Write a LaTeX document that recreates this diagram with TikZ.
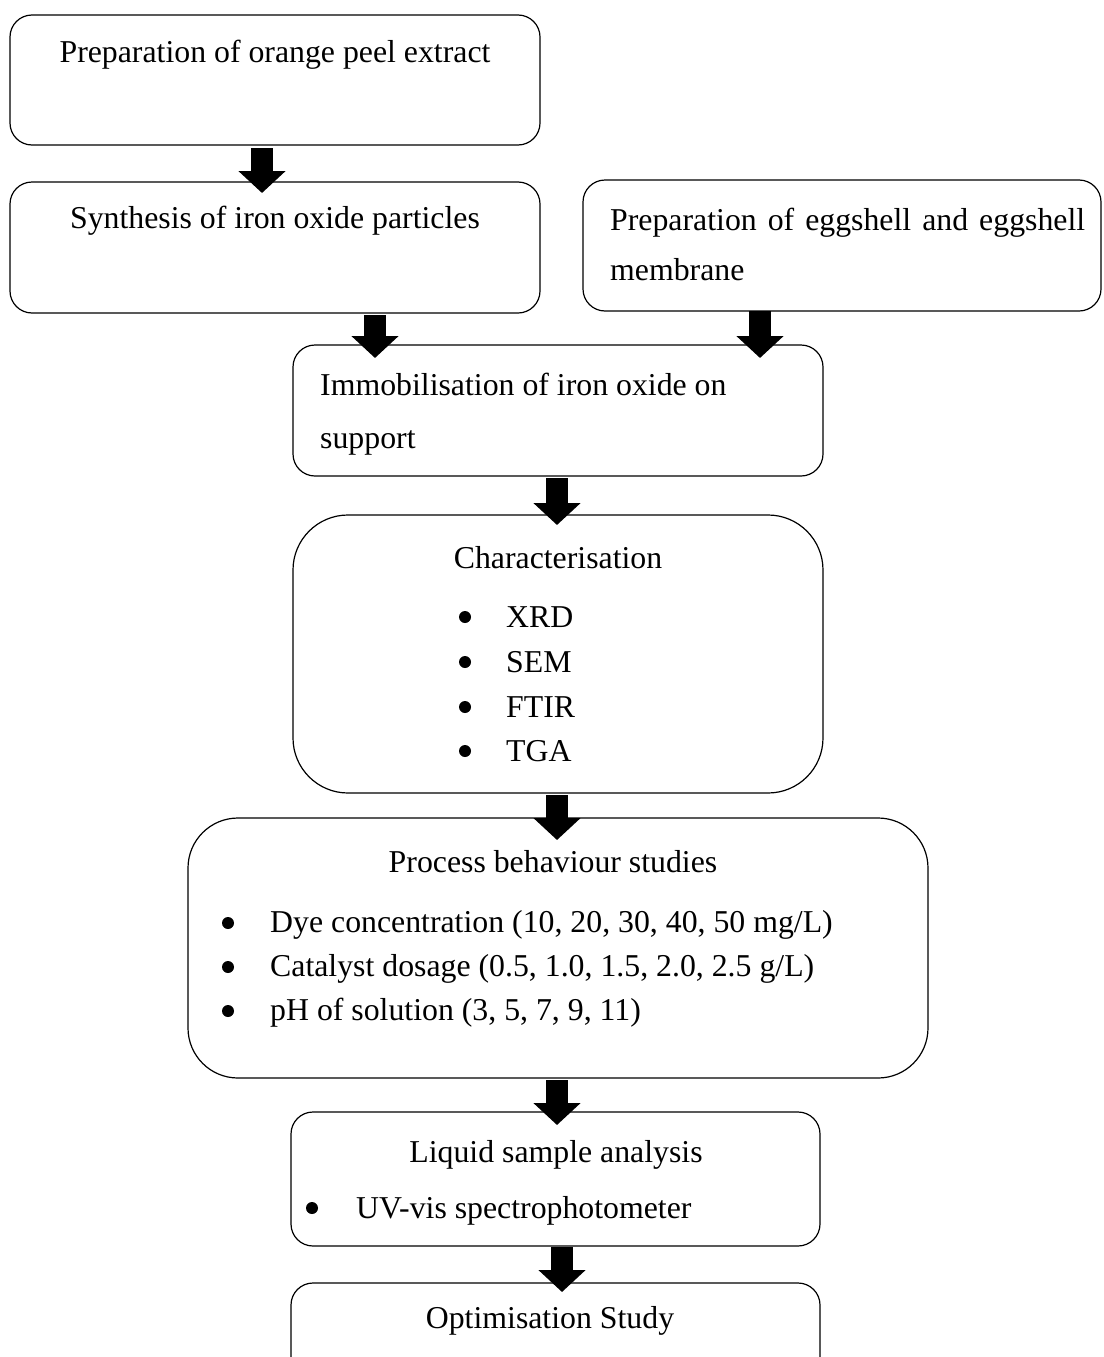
\documentclass[tikz,border=0pt]{standalone}
\usepackage{fontspec}
\setmainfont{Liberation Serif}
\usetikzlibrary{arrows.meta}
\tikzset{
  box/.style={draw=black, line width=1.2pt, rounded corners=#1, inner sep=0pt},
  box/.default=22pt,
  area/.style={inner sep=0pt, outer sep=0pt},
  txt/.style={inner sep=0pt, font=\fontsize{31.8}{50}\selectfont},
  ctr/.style={txt, anchor=base},
  lft/.style={txt, anchor=base west},
  dot/.style={circle, fill=black, draw=none, inner sep=0pt, minimum size=12pt},
  barrow/.style={line width=22pt, -{Triangle[width=46pt,length=22pt]}},
}
\begin{document}
\begin{tikzpicture}[x=1pt,y=-1pt]
\useasboundingbox (0,0) rectangle (1103,1357);
\clip (0,0) rectangle (1103,1357);
% box areas
\node[area, minimum width=530pt, minimum height=130pt] (b1) at (275,80) {};
\node[area, minimum width=530pt, minimum height=131pt] (b2) at (275,247.5) {};
\node[area, minimum width=518pt, minimum height=131pt] (b3) at (842,245.5) {};
\node[area, minimum width=530pt, minimum height=131pt] (b4) at (558,410.5) {};
\node[area, minimum width=530pt, minimum height=278pt] (b5) at (558,654) {};
\node[area, minimum width=740pt, minimum height=260pt] (b6) at (558,948) {};
\node[area, minimum width=529pt, minimum height=134pt] (b7) at (555.5,1179) {};
\node[area, minimum width=529pt, minimum height=134pt] (b8) at (555.5,1350) {};
\draw[box] (b1.north west) rectangle (b1.south east);
\draw[box] (b2.north west) rectangle (b2.south east);
\draw[box] (b3.north west) rectangle (b3.south east);
\draw[box] (b4.north west) rectangle (b4.south east);
\draw[box=55pt] (b5.north west) rectangle (b5.south east);
\draw[box=50pt] (b6.north west) rectangle (b6.south east);
\draw[box] (b7.north west) rectangle (b7.south east);
\draw[box] (b8.north west) rectangle (b8.south east);
% texts
\node[ctr] (t1) at (275,62) {Preparation of orange peel extract};
\node[ctr] (t2) at (275,228) {Synthesis of iron oxide particles};
\node[lft] (t3a) at (610,230) {\makebox[475pt][s]{Preparation of eggshell and eggshell}};
\node[lft] (t3b) at (610,280) {membrane};
\node[lft] (t4a) at (320,395) {Immobilisation of iron oxide on};
\node[lft] (t4b) at (320,448) {support};
\node[ctr] (t5) at (558,568) {Characterisation};
\node[dot] (u1) at (465,617) {};
\node[lft] (v1) at (506,627) {XRD};
\node[dot] (u2) at (465,662) {};
\node[lft] (v2) at (506,672) {SEM};
\node[dot] (u3) at (465,707) {};
\node[lft] (v3) at (506,717) {FTIR};
\node[dot] (u4) at (465,751) {};
\node[lft] (v4) at (506,761) {TGA};
\node[ctr] (t6) at (553,872) {Process behaviour studies};
\node[dot] (u5) at (228,923) {};
\node[lft] (v5) at (270,932) {Dye concentration (10, 20, 30, 40, 50 mg/L)};
\node[dot] (u6) at (228,967) {};
\node[lft] (v6) at (270,976) {Catalyst dosage (0.5, 1.0, 1.5, 2.0, 2.5 g/L)};
\node[dot] (u7) at (228,1011) {};
\node[lft] (v7) at (270,1020) {pH of solution (3, 5, 7, 9, 11)};
\node[ctr] (t7) at (556,1162) {Liquid sample analysis};
\node[dot] (u8) at (312,1208) {};
\node[lft] (v8) at (356,1218) {UV-vis spectrophotometer};
\node[ctr] (t8) at (550,1328) {Optimisation Study};
% arrows
\draw[barrow] ([xshift=-13pt,yshift=-3pt]b1.south) -- ([xshift=-13pt,yshift=-11pt]b2.north);
\draw[barrow] ([xshift=100pt,yshift=-2pt]b2.south) -- ([xshift=-183pt,yshift=-13pt]b4.north);
\draw[barrow] ([xshift=-82pt,yshift=0pt]b3.south) -- ([xshift=202pt,yshift=-13pt]b4.north);
\draw[barrow] ([xshift=-1pt,yshift=-2pt]b4.south) -- ([xshift=-1pt,yshift=-10pt]b5.north);
\draw[barrow] ([xshift=-1pt,yshift=-2pt]b5.south) -- ([xshift=-1pt,yshift=-22pt]b6.north);
\draw[barrow] ([xshift=-1pt,yshift=-2pt]b6.south) -- ([xshift=1.5pt,yshift=-13pt]b7.north);
\draw[barrow] ([xshift=6.5pt,yshift=-1pt]b7.south) -- ([xshift=6.5pt,yshift=-9pt]b8.north);
\end{tikzpicture}
\end{document}
